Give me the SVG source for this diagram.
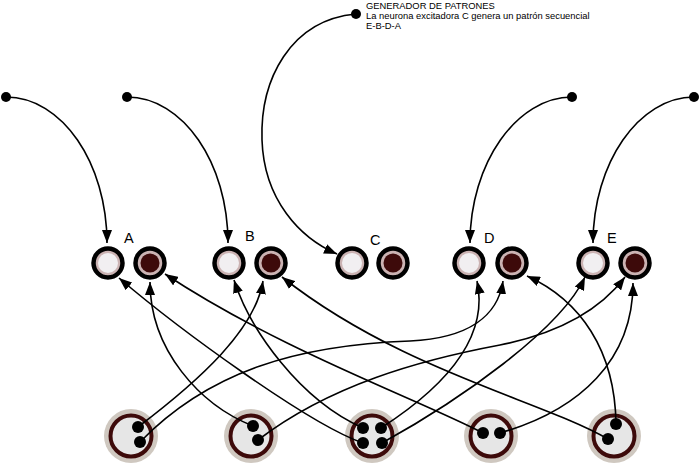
<svg xmlns="http://www.w3.org/2000/svg" width="700" height="464" viewBox="0 0 700 464">
<defs>
<marker id="arr" viewBox="0 0 13 10" refX="13" refY="5" markerWidth="13" markerHeight="10" orient="auto" markerUnits="userSpaceOnUse"><path d="M0,0 L13,5 L0,10 z" fill="#000"/></marker>
<style>
.c{fill:none;stroke:#000;stroke-width:1.6;marker-end:url(#arr)}
.sd{fill:#000}
.ring{fill:#cbb3b3;stroke:#000;stroke-width:4.5}
.lt{fill:#f1eff1}
.dk{fill:#3d0a0a}
.bo{fill:#cfc8c0}
.bi{fill:#e6e6e6;stroke:#3d0a0a;stroke-width:4}
.dot{fill:#000}
.lbl{font-family:"Liberation Sans",Arial,sans-serif;font-size:14.5px;fill:#000}
.note{font-family:"Liberation Sans",Arial,sans-serif;font-size:9.4px;fill:#000}
</style>
</defs>
<rect width="700" height="464" fill="#fff"/>

<g id="bottom-1"><circle cx="131" cy="436" r="27" class="bo"/><circle cx="131" cy="436" r="20.5" class="bi"/></g>
<g id="bottom-2"><circle cx="251" cy="436" r="27" class="bo"/><circle cx="251" cy="436" r="20.5" class="bi"/></g>
<g id="bottom-3"><circle cx="372" cy="436" r="27" class="bo"/><circle cx="372" cy="436" r="20.5" class="bi"/></g>
<g id="bottom-4"><circle cx="491" cy="436" r="27" class="bo"/><circle cx="491" cy="436" r="20.5" class="bi"/></g>
<g id="bottom-5"><circle cx="614" cy="436" r="27" class="bo"/><circle cx="614" cy="436" r="20.5" class="bi"/></g>

<g id="connectors">
<path class="c" d="M6,97 C62,97 107,163 107,243"/>
<path class="c" d="M127,97 C183,97 228,163 228,243"/>
<path class="c" d="M572,97 C517,97 470,163 470,243"/>
<path class="c" d="M694,97 C639,97 593,163 593,243"/>
<path class="c" d="M356,14 C290,20 260,80 262,140 C264,200 300,238 337,254"/>
<path class="c" d="M138,427 C200,380 255,330 263,281"/>
<path class="c" d="M140,442 C210,370 300,345 410,341 C470,338 498,315 503,281"/>
<path class="c" d="M253,426 C200,405 150,350 150,282"/>
<path class="c" d="M258,440 C330,385 420,360 500,345 C560,333 600,310 625,277"/>
<path class="c" d="M363,443 C310,425 180,330 119,278"/>
<path class="c" d="M363,428 C300,400 250,330 234,280"/>
<path class="c" d="M483,433 C420,400 280,350 165,274"/>
<path class="c" d="M608,439 C540,400 400,370 282,277"/>
<path class="c" d="M616,424 C615,350 580,300 527,276"/>
<path class="c" d="M381,428 C440,390 490,340 477,281"/>
<path class="c" d="M382,443 C460,400 560,330 585,277"/>
<path class="c" d="M500,433 C580,410 633,360 633,283"/>
</g>

<g id="sources">
<circle class="sd" cx="6" cy="97" r="5"/>
<circle class="sd" cx="127" cy="97" r="5"/>
<circle class="sd" cx="572" cy="97" r="5"/>
<circle class="sd" cx="694" cy="97" r="5"/>
<circle class="sd" cx="356" cy="14" r="5"/>
</g>

<g id="bottom-dots">
<circle class="dot" cx="138" cy="427" r="6"/><circle class="dot" cx="140" cy="442" r="6"/>
<circle class="dot" cx="253" cy="426" r="6"/><circle class="dot" cx="258" cy="440" r="6"/>
<circle class="dot" cx="363" cy="428" r="6"/><circle class="dot" cx="381" cy="428" r="6"/><circle class="dot" cx="363" cy="443" r="6"/><circle class="dot" cx="382" cy="443" r="6"/>
<circle class="dot" cx="483" cy="433" r="6"/><circle class="dot" cx="500" cy="433" r="6"/>
<circle class="dot" cx="616" cy="424" r="6"/><circle class="dot" cx="608" cy="439" r="6"/>
</g>

<g id="node-A"><circle cx="108" cy="263" r="14.5" class="ring"/><circle cx="108" cy="263" r="10" class="lt"/><circle cx="150" cy="263" r="14.5" class="ring"/><circle cx="150" cy="263" r="9.5" class="dk"/><text class="lbl" x="124" y="243">A</text></g>
<g id="node-B"><circle cx="229" cy="263" r="14.5" class="ring"/><circle cx="229" cy="263" r="10" class="lt"/><circle cx="271" cy="263" r="14.5" class="ring"/><circle cx="271" cy="263" r="9.5" class="dk"/><text class="lbl" x="245" y="241">B</text></g>
<g id="node-C"><circle cx="352" cy="263" r="14.5" class="ring"/><circle cx="352" cy="263" r="10" class="lt"/><circle cx="393" cy="263" r="14.5" class="ring"/><circle cx="393" cy="263" r="9.5" class="dk"/><text class="lbl" x="370" y="245">C</text></g>
<g id="node-D"><circle cx="469" cy="263" r="14.5" class="ring"/><circle cx="469" cy="263" r="10" class="lt"/><circle cx="512" cy="263" r="14.5" class="ring"/><circle cx="512" cy="263" r="9.5" class="dk"/><text class="lbl" x="484" y="243">D</text></g>
<g id="node-E"><circle cx="593" cy="263" r="14.5" class="ring"/><circle cx="593" cy="263" r="10" class="lt"/><circle cx="635" cy="263" r="14.5" class="ring"/><circle cx="635" cy="263" r="9.5" class="dk"/><text class="lbl" x="607" y="243">E</text></g>

<g id="note">
<text class="note" x="366" y="8.5">GENERADOR DE PATRONES</text>
<text class="note" x="366" y="18.5">La neurona excitadora C genera un patrón secuencial</text>
<text class="note" x="366" y="28.5">E-B-D-A</text>
</g>
</svg>
